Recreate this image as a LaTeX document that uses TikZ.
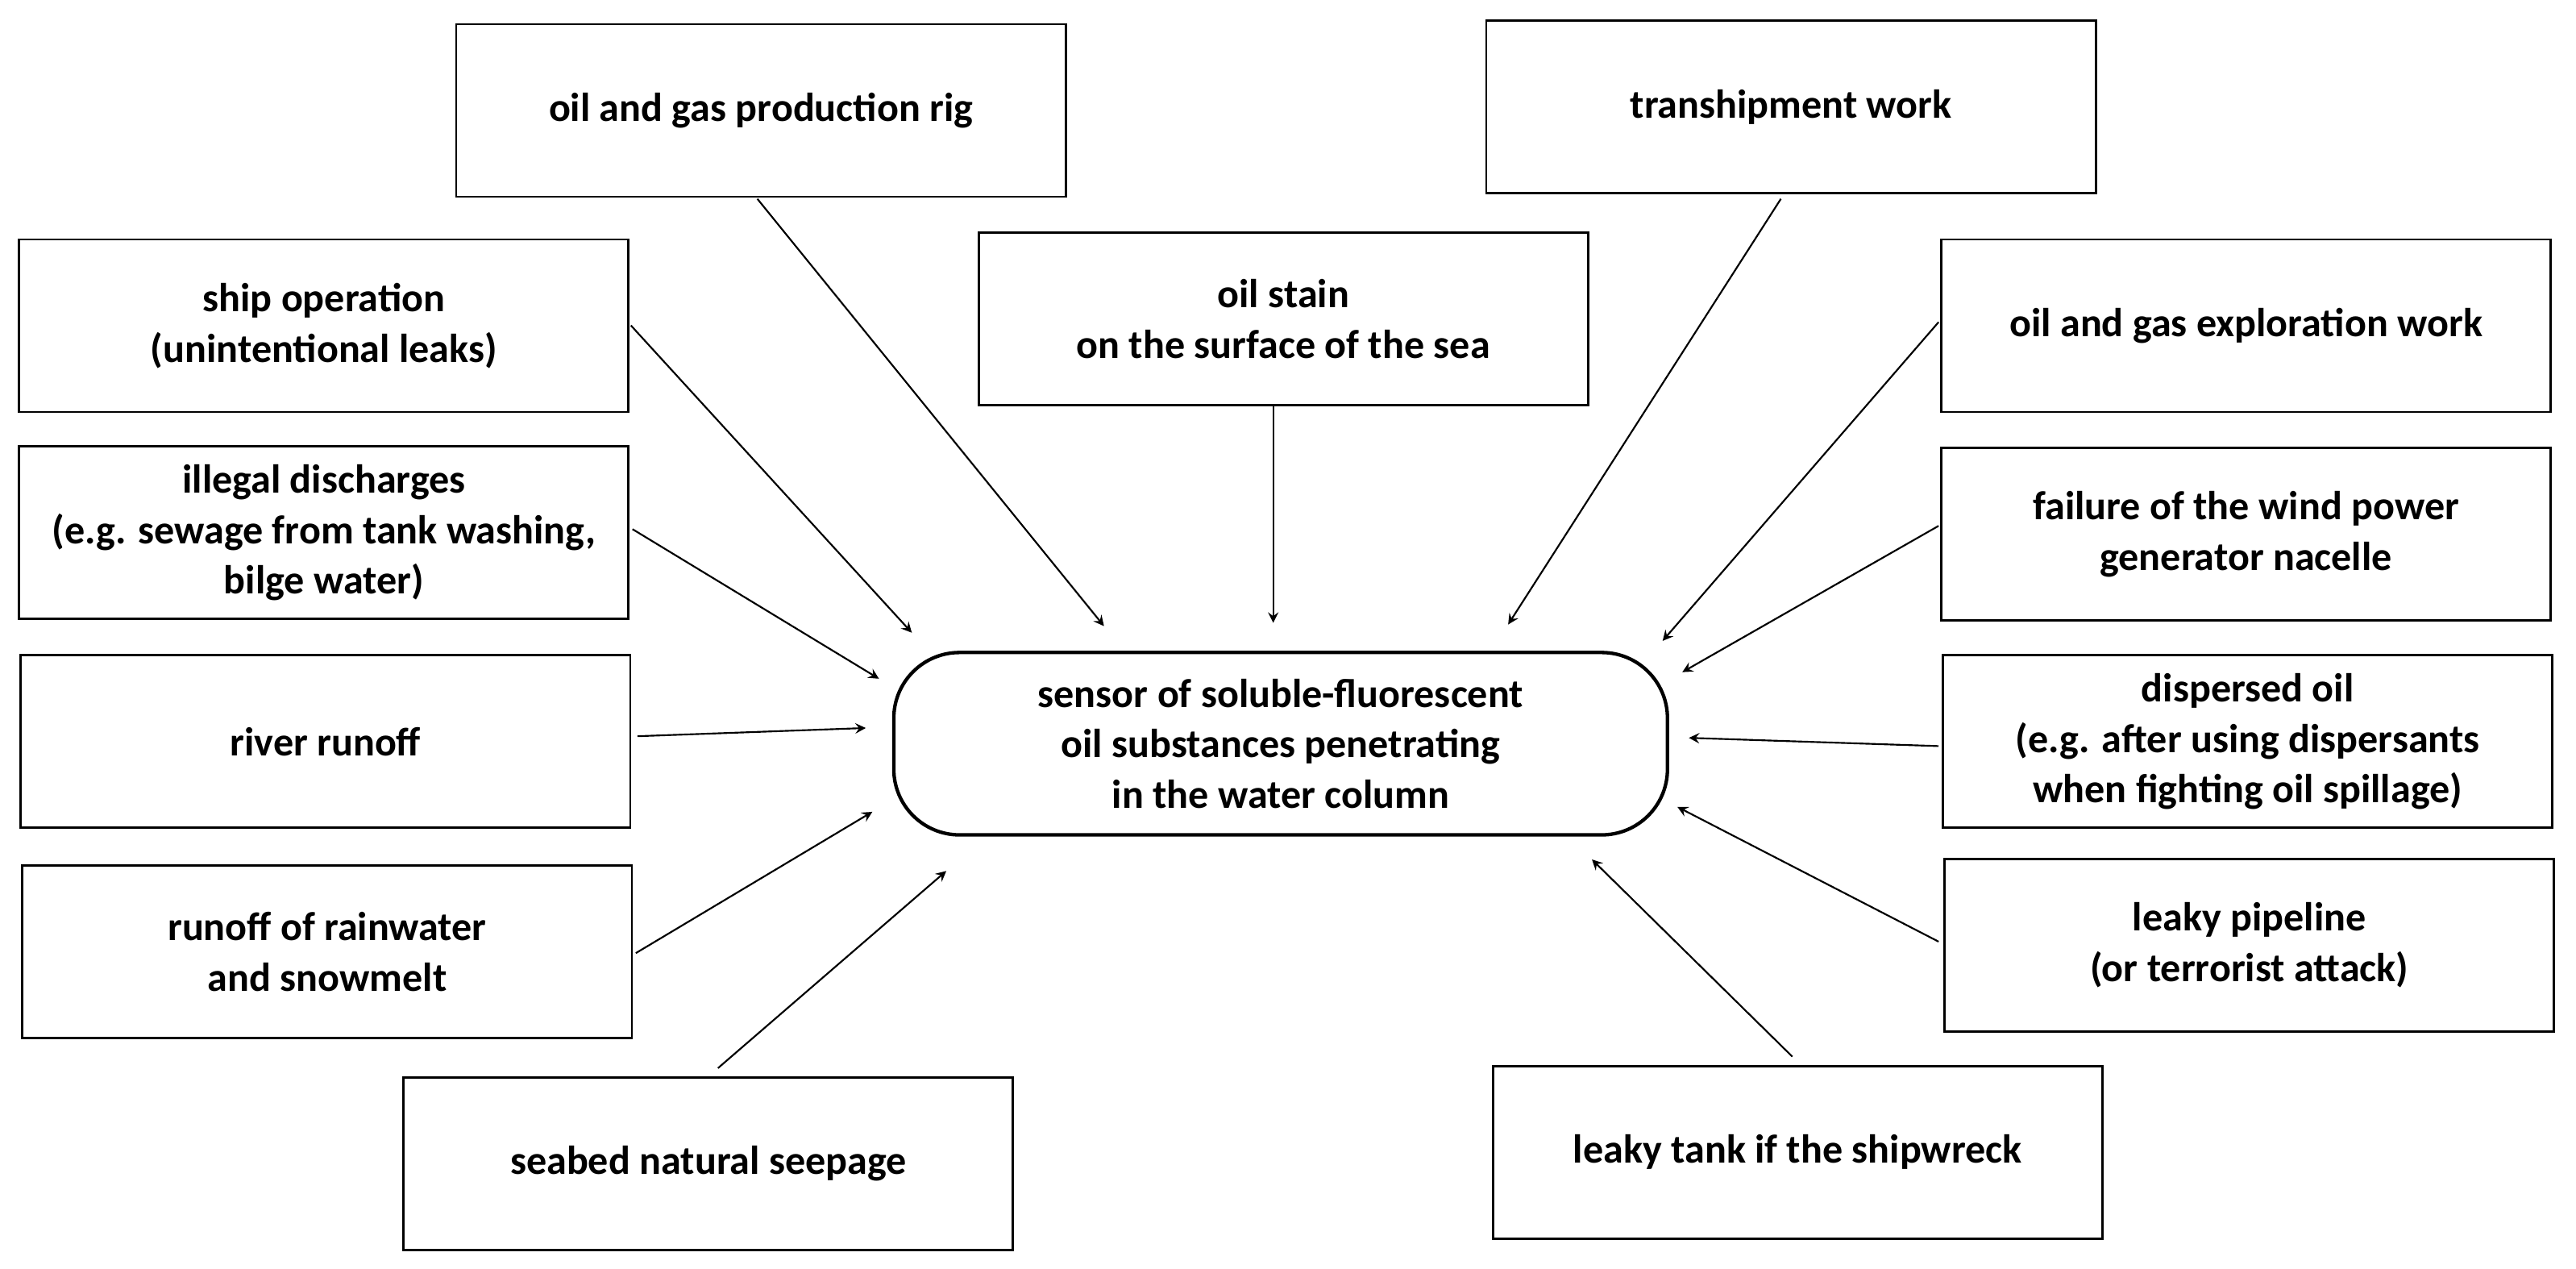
\documentclass[tikz,border=0pt]{standalone}
\usepackage{fontspec}
\setmainfont{Carlito}
\begin{document}
\begin{tikzpicture}[x=0.02cm,y=-0.02cm,
 box/.style={draw,line width=0.8pt,minimum width=7.42cm,minimum height=2.1cm,align=center,font=\fontsize{14}{17.5}\selectfont\bfseries},
 arr/.style={->,>=stealth,line width=0.6pt}]
\useasboundingbox (0,0) rectangle (1568,772);
\node[box,anchor=north west] (rig) at (277,14) {oil and gas production rig};
\node[box,anchor=north west] (tran) at (904,12) {transhipment work};
\node[box,anchor=north west] (ship) at (11,145) {ship operation\\(unintentional leaks)};
\node[box,anchor=north west] (stain) at (595,141) {oil stain\\on the surface of the sea};
\node[box,anchor=north west] (expl) at (1181,145) {oil and gas exploration work};
\node[box,anchor=north west] (ill) at (11,271) {illegal discharges\\(e.g. sewage from tank washing,\\bilge water)};
\node[box,anchor=north west] (wind) at (1181,272) {failure of the wind power\\generator nacelle};
\node[box,anchor=north west] (river) at (12,398) {river runoff};
\node[box,anchor=north west] (disp) at (1182,398) {dispersed oil\\(e.g. after using dispersants\\when fighting oil spillage)};
\node[box,anchor=north west] (rain) at (13,526) {runoff of rainwater\\and snowmelt};
\node[box,anchor=north west] (pipe) at (1183,522) {leaky pipeline\\(or terrorist attack)};
\node[box,anchor=north west] (seab) at (245,655) {seabed natural seepage};
\node[box,anchor=north west] (tank) at (908,648) {leaky tank if the shipwreck};
\node[box,anchor=north west,rounded corners=0.8cm,minimum width=9.42cm,minimum height=2.22cm,line width=1.2pt] (sens) at (543,396) {sensor of soluble-fluorescent\\oil substances penetrating\\in the water column};
\coordinate (e1) at (672,381); \coordinate (e2) at (555,385); \coordinate (e3) at (535,413);
\coordinate (e4) at (527,443); \coordinate (e5) at (531,494); \coordinate (e6) at (576,530);
\coordinate (e7) at (775,379); \coordinate (e8) at (918,380); \coordinate (e9) at (1012,390);
\coordinate (e10) at (1024,409); \coordinate (e11) at (1028,449); \coordinate (e12) at (1021,491);
\coordinate (e13) at (969,523);
\draw[arr] (461,121) -- (e1);
\draw[arr] (384,198) -- (e2);
\draw[arr] (385,322) -- (e3);
\draw[arr] (388,448) -- (e4);
\draw[arr] (387,580) -- (e5);
\draw[arr] (437,650) -- (e6);
\draw[arr] (775,246) -- (e7);
\draw[arr] (1084,121) -- (e8);
\draw[arr] (1180,196) -- (e9);
\draw[arr] (1180,320) -- (e10);
\draw[arr] (1180,454) -- (e11);
\draw[arr] (1180,573) -- (e12);
\draw[arr] (1091,643) -- (e13);
\end{tikzpicture}
\end{document}
